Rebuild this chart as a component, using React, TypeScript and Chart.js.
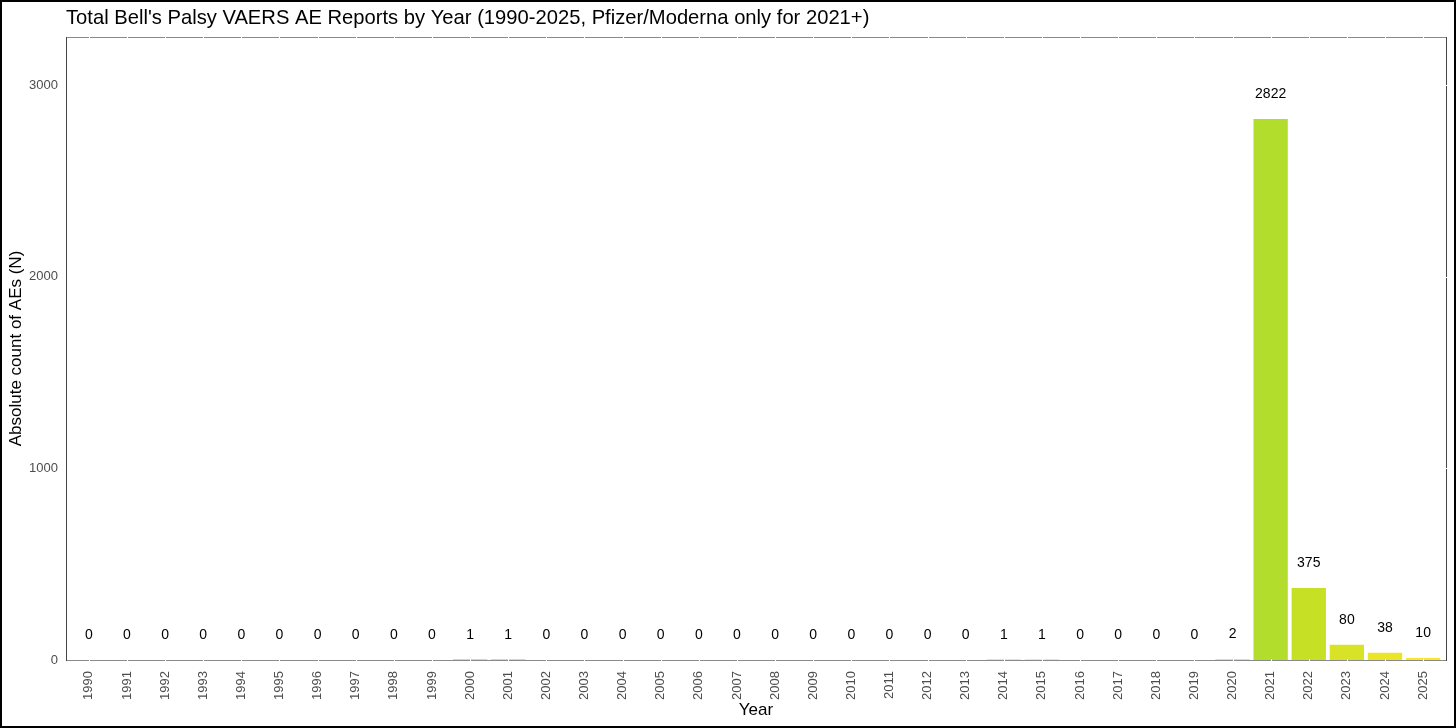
import React, { useEffect, useRef } from "react";
import { Chart, registerables } from "chart.js";

Chart.register(...registerables);

const years: string[] = [
  "1990", "1991", "1992", "1993", "1994", "1995", "1996", "1997", "1998", "1999",
  "2000", "2001", "2002", "2003", "2004", "2005", "2006", "2007", "2008", "2009",
  "2010", "2011", "2012", "2013", "2014", "2015", "2016", "2017", "2018", "2019",
  "2020", "2021", "2022", "2023", "2024", "2025",
];

const counts: number[] = [
  0, 0, 0, 0, 0, 0, 0, 0, 0, 0,
  1, 1, 0, 0, 0, 0, 0, 0, 0, 0,
  0, 0, 0, 0, 1, 1, 0, 0, 0, 0,
  2, 2822, 375, 80, 38, 10,
];

const yTicks: number[] = [0, 1000, 2000, 3000];

const titleText =
  "Total Bell's Palsy VAERS AE Reports by Year (1990-2025, Pfizer/Moderna only for 2021+)";
const xTitle = "Year";
const yTitle = "Absolute count of AEs (N)";

const VIRIDIS = [
  "#440154", "#482475", "#414487", "#355f8d", "#2a788e", "#21918c",
  "#22a884", "#44bf70", "#7ad151", "#bddf26", "#fde725",
];

function hexToRgb(h: string) {
  const n = parseInt(h.slice(1), 16);
  return [(n >> 16) & 255, (n >> 8) & 255, n & 255];
}

function viridis(t: number): string {
  const p = Math.max(0, Math.min(1, t)) * (VIRIDIS.length - 1);
  const i = Math.min(Math.floor(p), VIRIDIS.length - 2);
  const f = p - i;
  const a = hexToRgb(VIRIDIS[i]);
  const b = hexToRgb(VIRIDIS[i + 1]);
  const c = a.map((v, k) => Math.round(v + (b[k] - v) * f));
  return `rgb(${c[0]},${c[1]},${c[2]})`;
}

const FONT = "'Liberation Sans', Arial, Helvetica, sans-serif";

export default function App() {
  const canvasRef = useRef<HTMLCanvasElement | null>(null);

  useEffect(() => {
    document.body.style.margin = "0";
    const canvas = canvasRef.current;
    if (!canvas) return;

    const colors = years.map((_, i) => viridis(i / (years.length - 1)));
    const points = counts.map((v, i) => ({ x: i, y: v }));

    const decor = {
      id: "decor",
      afterDatasetsDraw(chart: any) {
        const ctx = chart.ctx;
        const meta = chart.getDatasetMeta(0);
        const yScale = chart.scales.y;
        ctx.save();
        ctx.fillStyle = "#000000";
        ctx.font = `14px ${FONT}`;
        ctx.textAlign = "center";
        ctx.textBaseline = "middle";
        meta.data.forEach((bar: any, i: number) => {
          const v = counts[i];
          const y = yScale.getPixelForValue(v) - 25;
          ctx.fillText(String(v), bar.x, y);
        });
        ctx.restore();
      },
      afterDraw(chart: any) {
        const ctx = chart.ctx;
        const { left, right, top, bottom } = chart.chartArea;
        const xScale = chart.scales.x;
        const yScale = chart.scales.y;
        ctx.save();
        ctx.lineWidth = 1;
        ctx.strokeStyle = "#8a8a8a";
        ctx.beginPath();
        ctx.moveTo(left, top + 0.5);
        ctx.lineTo(right, top + 0.5);
        ctx.moveTo(left, bottom + 0.5);
        ctx.lineTo(right, bottom + 0.5);
        ctx.stroke();
        ctx.strokeStyle = "#444444";
        ctx.beginPath();
        ctx.moveTo(right + 0.5, top);
        ctx.lineTo(right + 0.5, bottom + 1);
        ctx.moveTo(left + 0.5, top);
        ctx.lineTo(left + 0.5, bottom + 1);
        ctx.stroke();
        ctx.strokeStyle = "#ffffff";
        ctx.beginPath();
        years.forEach((_, i) => {
          const x = Math.round(xScale.getPixelForValue(i)) + 0.5;
          ctx.moveTo(x, top - 1);
          ctx.lineTo(x, top + 2);
          ctx.moveTo(x, bottom - 1);
          ctx.lineTo(x, bottom + 2);
        });
        yTicks.forEach((t) => {
          if (t === 0) return;
          const y = Math.round(yScale.getPixelForValue(t)) + 0.5;
          ctx.moveTo(right - 1, y);
          ctx.lineTo(right + 2, y);
        });
        ctx.stroke();
        ctx.fillStyle = "#000000";
        ctx.font = `20.2px ${FONT}`;
        ctx.textAlign = "left";
        ctx.textBaseline = "middle";
        ctx.fillText(titleText, left, 18);
        ctx.strokeStyle = "#000000";
        ctx.lineWidth = 2;
        ctx.strokeRect(1, 1, chart.width - 2, chart.height - 2);
        ctx.restore();
      },
    };

    const chart = new Chart(canvas, {
      type: "bar",
      data: {
        datasets: [
          {
            data: points,
            backgroundColor: colors,
            borderColor: colors,
            borderWidth: 0,
            barPercentage: 0.9,
            categoryPercentage: 1.0,
          },
        ],
      },
      options: {
        animation: false,
        responsive: true,
        maintainAspectRatio: false,
        layout: { padding: { top: 37, right: 10, left: 0, bottom: 0 } },
        plugins: {
          legend: { display: false },
          title: { display: false },
          tooltip: { enabled: false },
        },
        scales: {
          x: {
            type: "linear",
            min: -0.6,
            max: years.length - 1 + 0.6,
            offset: false,
            grid: { display: false },
            border: { display: false },
            afterBuildTicks(scale: any) {
              scale.ticks = years.map((_, i) => ({ value: i }));
            },
            ticks: {
              minRotation: 90,
              maxRotation: 90,
              autoSkip: false,
              color: "#4d4d4d",
              font: { family: FONT, size: 13 },
              padding: 3,
              callback: (v: any) => years[Number(v)] ?? "",
            },
            title: {
              display: true,
              text: xTitle,
              color: "#000000",
              font: { family: FONT, size: 17 },
              padding: { top: 0, bottom: 7 },
            },
            afterFit(scale: any) {
              scale.height = 68;
            },
          },
          y: {
            min: 0,
            max: 3250,
            grid: { display: false, drawTicks: false },
            border: { display: false },
            afterBuildTicks(scale: any) {
              scale.ticks = yTicks.map((v) => ({ value: v }));
            },
            ticks: {
              color: "#4d4d4d",
              font: { family: FONT, size: 13 },
              padding: 8,
              callback: (v: any) => String(v),
            },
            title: {
              display: true,
              text: yTitle,
              color: "#000000",
              font: { family: FONT, size: 17 },
              padding: { top: 6, bottom: 0 },
            },
            afterFit(scale: any) {
              scale.width = 66;
            },
          },
        },
      },
      plugins: [decor],
    });

    return () => {
      chart.destroy();
    };
  }, []);

  return (
    <div style={{ width: "1456px", height: "728px", position: "relative" }}>
      <canvas ref={canvasRef} />
    </div>
  );
}
